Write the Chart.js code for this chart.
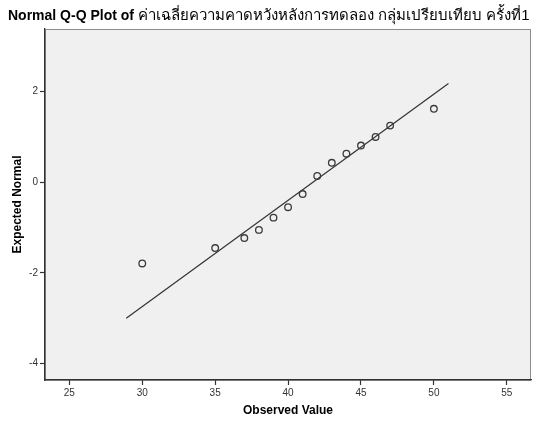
<!DOCTYPE html>
<html>
<head>
<meta charset="utf-8">
<script src="https://cdn.jsdelivr.net/npm/chart.js@4/dist/chart.umd.min.js"></script>
<style>
  html, body { margin: 0; padding: 0; background: #ffffff; }
  #wrap { position: relative; width: 534px; height: 421px; }
  #title {
    position: absolute; left: 8px; top: 3px; white-space: nowrap;
    font-family: "Liberation Sans", Arial, sans-serif; font-size: 14px; color: #000;
  }
  #title b { font-weight: bold; }
  #title span { font-size: 15px; }
  canvas { position: absolute; left: 0; top: 0; }
</style>
</head>
<body>
<div id="wrap">
  <canvas id="c" width="534" height="421"></canvas>
  <div id="title"><b>Normal Q-Q Plot of</b> <span>ค่าเฉลี่ยความคาดหวังหลังการทดลอง กลุ่มเปรียบเทียบ ครั้งที่1</span></div>
</div>
<script>
// Observed values and their expected normal scores
const observed = [30, 35, 37, 38, 39, 40, 41, 42, 43, 44, 45, 46, 47, 50];
const expectedNormal = [-1.79, -1.45, -1.23, -1.05, -0.78, -0.55, -0.26, 0.14, 0.43, 0.63, 0.81, 1.0, 1.25, 1.62];

// Reference line end points
const refLineX = [28.9, 51.0];
const refLineY = [-3.0, 2.18];

// Axis ticks and ranges
const xTicks = [25, 30, 35, 40, 45, 50, 55];
const yTicks = [-4, -2, 0, 2];
const xRange = [23.33, 56.66];
const yRange = [-4.36, 3.38];

const points = observed.map((v, i) => ({ x: v, y: expectedNormal[i] }));
const refLine = refLineX.map((v, i) => ({ x: v, y: refLineY[i] }));

const plotBackground = {
  id: 'plotBackground',
  beforeDraw(chart) {
    const { ctx, chartArea: a } = chart;
    ctx.save();
    ctx.fillStyle = '#f0f0f0';
    ctx.fillRect(a.left, a.top, a.right - a.left, a.bottom - a.top);
    ctx.strokeStyle = '#8c8c8c';
    ctx.lineWidth = 1;
    ctx.strokeRect(a.left + 0.5, a.top + 0.5, a.right - a.left - 1, a.bottom - a.top);
    ctx.restore();
  }
};

const tickFont = { family: '"Liberation Sans", Arial, sans-serif', size: 10 };
const titleFont = { family: '"Liberation Sans", Arial, sans-serif', size: 12, weight: 'bold' };

new Chart(document.getElementById('c'), {
  type: 'scatter',
  data: {
    datasets: [
      {
        type: 'line',
        data: refLine,
        borderColor: '#333333',
        borderWidth: 1.2,
        pointRadius: 0,
        fill: false,
        order: 2
      },
      {
        data: points,
        pointStyle: 'circle',
        pointRadius: 3.3,
        pointBorderWidth: 1.3,
        pointBackgroundColor: 'rgba(0,0,0,0)',
        pointBorderColor: '#3a3a3a',
        order: 1
      }
    ]
  },
  options: {
    responsive: false,
    animation: false,
    devicePixelRatio: 1,
    layout: { autoPadding: false, padding: { top: 29, right: 3, left: 0, bottom: 0 } },
    plugins: { legend: { display: false }, tooltip: { enabled: false } },
    scales: {
      x: {
        type: 'linear',
        min: xRange[0], max: xRange[1],
        afterBuildTicks: s => { s.ticks = xTicks.map(v => ({ value: v })); },
        afterFit: s => { s.height = 41; s.paddingLeft = 0; s.paddingRight = 0; },
        grid: { drawOnChartArea: false, drawTicks: true, tickLength: 5, color: '#333333', tickWidth: 1.2 },
        border: { display: true, color: '#333333', width: 1.3 },
        ticks: { font: tickFont, color: '#333333', padding: 2, maxRotation: 0 },
        title: { display: true, text: 'Observed Value', font: titleFont, color: '#000000', padding: { top: 0, bottom: 3 } }
      },
      y: {
        type: 'linear',
        min: yRange[0], max: yRange[1],
        afterBuildTicks: s => { s.ticks = yTicks.map(v => ({ value: v })); },
        afterFit: s => { s.width = 45; s.paddingTop = 0; s.paddingBottom = 0; },
        grid: { drawOnChartArea: false, drawTicks: true, tickLength: 5, color: '#333333', tickWidth: 1.2 },
        border: { display: true, color: '#333333', width: 1.3 },
        ticks: { font: tickFont, color: '#333333', padding: 2 },
        title: { display: true, text: 'Expected Normal', font: titleFont, color: '#000000', padding: { top: 10, bottom: 0 } }
      }
    }
  },
  plugins: [plotBackground]
});
</script>
</body>
</html>
